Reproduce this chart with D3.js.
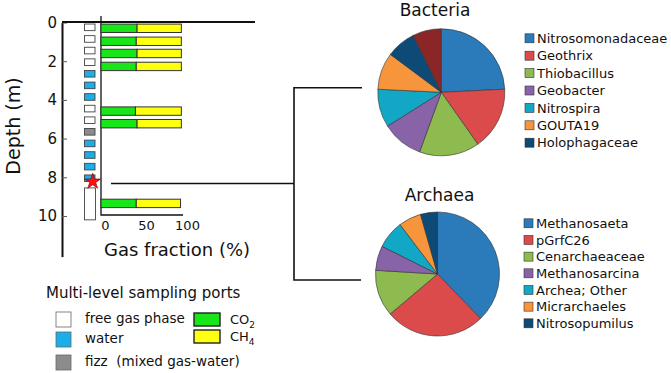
<!DOCTYPE html>
<html>
<head>
<meta charset="utf-8">
<script src="https://cdn.jsdelivr.net/npm/d3@7"></script>
<style>
  body { margin: 0; background: #fff; }
  text { font-family: "DejaVu Sans", Verdana, sans-serif; fill: #111; }
</style>
</head>
<body>
<div id="chart"></div>
<script>
var width = 671;
var height = 373;

// sampling ports (depth of centre, m) and what came out of them
var portDepth = [0.25, 0.85, 1.45, 2.05, 2.65, 3.25, 3.85, 4.45, 5.05, 5.65, 6.25, 6.85, 7.45, 8.05];
var portType = ["gas", "gas", "gas", "gas", "water", "water", "water", "gas", "gas", "fizz", "water", "water", "water", "water"];
var deepPort = [8.55, 10.2]; // long open section at the bottom
var starDepth = 8.22;

// gas composition at the gas ports
var gasDepth = [0.3, 0.97, 1.6, 2.27, 4.58, 5.23, 9.35];
var co2 = [44, 43, 44, 43, 42, 44, 43];
var ch4 = [54, 55, 54, 55, 56, 54, 54];

var depthTicks = [0, 2, 4, 6, 8, 10];
var fracTicks = [0, 50, 100];

var bactNames = ["Nitrosomonadaceae", "Geothrix", "Thiobacillus", "Geobacter", "Nitrospira", "GOUTA19", "Holophagaceae", "Other"];
var bactValues = [24.2, 16.0, 15.3, 10.5, 9.7, 9.4, 7.5, 7.3];
var archNames = ["Methanosaeta", "pGrfC26", "Cenarchaeaceae", "Methanosarcina", "Archea; Other", "Micrarchaeles", "Nitrosopumilus"];
var archValues = [37.7, 26.0, 12.1, 6.4, 7.3, 5.9, 4.4];

var pieColors = ["#2b7bba", "#dc4b4b", "#8dbb4f", "#8963a8", "#12a8c5", "#f7953c", "#0d4a76", "#8a2626"];
var portColors = {gas: "#ffffff", water: "#1aaeea", fizz: "#8c8c8c"};

var svg = d3.select("#chart")
    .append("svg")
    .attr("width", width)
    .attr("height", height);

var y = d3.scaleLinear().domain([0, 12.1]).range([22.5, 256.6]);
var x = d3.scaleLinear().domain([0, 100]).range([101, 183]);

// depth axis
var yAxis = svg.append("g")
    .attr("transform", "translate(62,0)")
    .call(d3.axisLeft(y).tickValues(depthTicks).tickSize(-5).tickSizeOuter(0).tickPadding(5));
yAxis.select(".domain").attr("stroke", "#111").attr("stroke-width", 2);
yAxis.selectAll(".tick line").attr("stroke", "#555");
yAxis.selectAll("text").style("font-size", "15px").attr("fill", "#111");

// ground surface
svg.append("line")
    .attr("x1", 62).attr("x2", 255)
    .attr("y1", 22).attr("y2", 22)
    .attr("stroke", "#111").attr("stroke-width", 2);

svg.append("text")
    .attr("text-anchor", "middle")
    .attr("transform", "translate(20,126) rotate(-90)")
    .style("font-size", "19px")
    .text("Depth (m)");

// gas fraction axis
svg.append("path")
    .attr("d", "M101,16V215H183")
    .attr("fill", "none")
    .attr("stroke", "#111")
    .attr("stroke-width", 1.3);

var xAxis = svg.append("g")
    .attr("transform", "translate(0,215)")
    .call(d3.axisBottom(x).tickValues(fracTicks).tickSize(0).tickPadding(6));
xAxis.select(".domain").remove();
xAxis.selectAll("text").style("font-size", "13px").attr("dx", 4).attr("fill", "#111");

svg.append("text")
    .attr("x", 104)
    .attr("y", 256)
    .style("font-size", "18px")
    .text("Gas fraction (%)");

// ports
svg.selectAll(".port")
    .data(portDepth)
    .enter()
    .append("rect")
    .attr("class", "port")
    .attr("x", 84.5)
    .attr("y", function(d){ return y(d) - 3.3; })
    .attr("width", 10.5)
    .attr("height", 6.6)
    .attr("fill", function(d, i){ return portColors[portType[i]]; })
    .attr("stroke", "#444")
    .attr("stroke-width", 0.9);

svg.append("rect")
    .attr("x", 84.5)
    .attr("y", y(deepPort[0]))
    .attr("width", 11)
    .attr("height", y(deepPort[1]) - y(deepPort[0]))
    .attr("fill", "#fff")
    .attr("stroke", "#444")
    .attr("stroke-width", 0.9);

svg.append("path")
    .attr("d", d3.symbol().type(d3.symbolStar).size(78)())
    .attr("transform", "translate(92.7," + y(starDepth) + ")")
    .attr("fill", "#ff1010")
    .attr("stroke", "#7a0000")
    .attr("stroke-width", 0.6);

// stacked gas bars
var barH = 8.4;
svg.selectAll(".co2")
    .data(gasDepth)
    .enter()
    .append("rect")
    .attr("x", x(0))
    .attr("y", function(d){ return y(d) - barH / 2; })
    .attr("width", function(d, i){ return x(co2[i]) - x(0); })
    .attr("height", barH)
    .attr("fill", "#19e619")
    .attr("stroke", "#333")
    .attr("stroke-width", 1);

svg.selectAll(".ch4")
    .data(gasDepth)
    .enter()
    .append("rect")
    .attr("x", function(d, i){ return x(co2[i]); })
    .attr("y", function(d){ return y(d) - barH / 2; })
    .attr("width", function(d, i){ return x(co2[i] + ch4[i]) - x(co2[i]); })
    .attr("height", barH)
    .attr("fill", "#ffff10")
    .attr("stroke", "#333")
    .attr("stroke-width", 1);

// connector from the star level to both pies
var cy = y(starDepth) + 2;
svg.append("path")
    .attr("d", "M111," + cy + "H294 M362,87.7H294V280H361")
    .attr("fill", "none")
    .attr("stroke", "#111")
    .attr("stroke-width", 1.6);

// pies
var pie = d3.pie().sort(null).value(function(d){ return d; });

function drawPie(values, names, cx, cyy, r, title, titleX, titleY, legX, legY, legStep) {
    var arc = d3.arc().innerRadius(0).outerRadius(r);
    var g = svg.append("g").attr("transform", "translate(" + cx + "," + cyy + ")");
    g.selectAll("path")
        .data(pie(values))
        .enter()
        .append("path")
        .attr("d", arc)
        .attr("fill", function(d, i){ return pieColors[i]; })
        .attr("stroke", "#333")
        .attr("stroke-width", 0.6);

    svg.append("text")
        .attr("x", titleX)
        .attr("y", titleY)
        .attr("text-anchor", "middle")
        .attr("dy", "0.36em")
        .style("font-size", "17px")
        .text(title);

    var leg = svg.selectAll(".leg-" + title)
        .data(names.slice(0, 7))
        .enter()
        .append("g")
        .attr("transform", function(d, i){ return "translate(" + legX + "," + (legY + i * legStep) + ")"; });
    leg.append("rect")
        .attr("x", 0).attr("y", -4.5)
        .attr("width", 9).attr("height", 9)
        .attr("fill", function(d, i){ return pieColors[i]; })
        .attr("stroke", "#333")
        .attr("stroke-width", 0.6);
    leg.append("text")
        .attr("x", 12)
        .attr("dy", "0.36em")
        .style("font-size", "13px")
        .text(function(d){ return d; });
}

drawPie(bactValues, bactNames, 441.3, 92.3, 63.5, "Bacteria", 435, 10, 525, 38.3, 17.4);
drawPie(archValues, archNames, 437.5, 274, 62, "Archaea", 439.5, 195, 524, 223.3, 16.67);

// port legend
svg.append("text")
    .attr("x", 46).attr("y", 293).attr("dy", "0.36em")
    .style("font-size", "15px")
    .text("Multi-level sampling ports");

var portLeg = [["gas", "free gas phase", 319.5], ["water", "water", 339.5], ["fizz", "fizz  (mixed gas-water)", 362.5]];
svg.selectAll(".portleg")
    .data(portLeg)
    .enter()
    .append("rect")
    .attr("x", 56).attr("y", function(d){ return d[2] - 7.5; })
    .attr("width", 15).attr("height", 15)
    .attr("fill", function(d){ return portColors[d[0]]; })
    .attr("stroke", "#666")
    .attr("stroke-width", 0.8);
svg.selectAll(".portlegtxt")
    .data(portLeg)
    .enter()
    .append("text")
    .attr("x", 85).attr("y", function(d){ return d[2] - 1; })
    .attr("dy", "0.36em")
    .style("font-size", "13.5px")
    .style("white-space", "pre")
    .attr("xml:space", "preserve")
    .text(function(d){ return d[1]; });

var gasLeg = [["#19e619", "CO", "2", 319.5], ["#ffff10", "CH", "4", 336.5]];
svg.selectAll(".gasleg")
    .data(gasLeg)
    .enter()
    .append("rect")
    .attr("x", 194).attr("y", function(d){ return d[3] - 6.5; })
    .attr("width", 26).attr("height", 13)
    .attr("fill", function(d){ return d[0]; })
    .attr("stroke", "#222")
    .attr("stroke-width", 1.4);
var gt = svg.selectAll(".gaslegtxt")
    .data(gasLeg)
    .enter()
    .append("text")
    .attr("x", 230).attr("y", function(d){ return d[3]; })
    .attr("dy", "0.36em")
    .style("font-size", "13px");
gt.append("tspan").text(function(d){ return d[1]; });
gt.append("tspan").attr("dy", "4").style("font-size", "9px").text(function(d){ return d[2]; });
</script>
</body>
</html>
